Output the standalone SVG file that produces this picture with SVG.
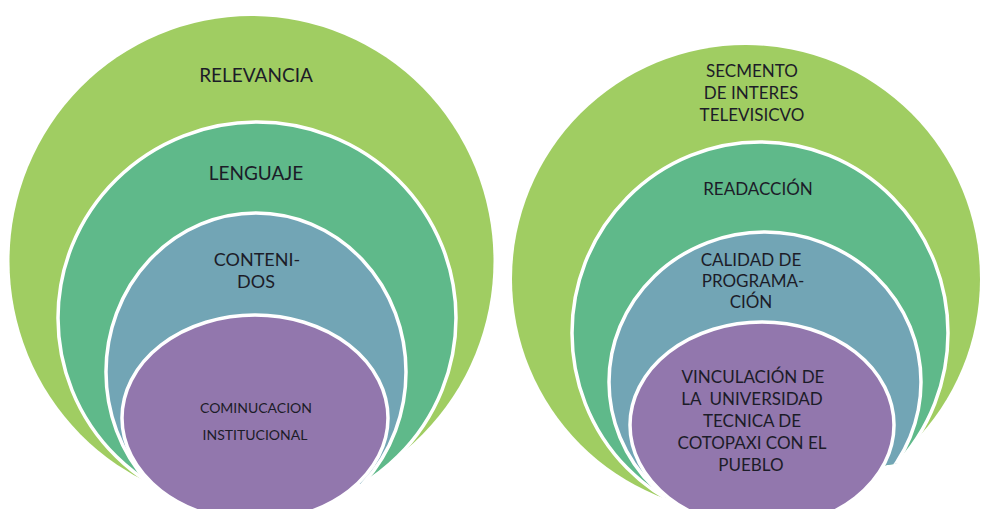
<svg xmlns="http://www.w3.org/2000/svg" width="982" height="509" viewBox="0 0 982 509">
<defs>
<clipPath id="clipL"><rect x="0" y="0" width="495" height="484"/></clipPath>
<clipPath id="clipR"><polygon points="495,0 982,0 982,451 495,523"/></clipPath>
</defs>
<style>
.c{stroke:#ffffff;stroke-width:3.5}
.g1{fill:#a0cd62}
.g2{fill:#5fb98a}
.g3{fill:#72a5b5}
.g4{fill:#9277ad}
text{font-family:Lato,"Liberation Sans",sans-serif;fill:#1c1c28;text-anchor:middle}
.t{font-size:19px}
.u{font-size:18px}
.s{font-size:14px}
.r{font-size:17px}
</style>
<rect width="982" height="509" fill="#ffffff"/>
<g id="left">
<g clip-path="url(#clipL)">
<g id="relevancia"><ellipse class="g1" cx="251.5" cy="261" rx="242" ry="245"/><text class="t" x="256" y="82">RELEVANCIA</text></g>
<g id="lenguaje"><ellipse class="c g2" cx="257" cy="318" rx="199" ry="196"/><text class="t" x="256" y="180">LENGUAJE</text></g>
<g id="contenidos"><ellipse class="c g3" cx="256" cy="372" rx="150" ry="159"/><text class="u" x="257" y="266">CONTENI-</text><text class="u" x="256" y="288">DOS</text></g>
</g>
<g id="comunicacion"><ellipse class="c g4" cx="255" cy="418" rx="133" ry="103"/><text class="s" x="256" y="413">COMINUCACION</text><text class="s" x="255" y="440">INSTITUCIONAL</text></g>
</g>
<g id="right">
<g clip-path="url(#clipR)">
<g id="segmento"><ellipse class="g1" cx="746" cy="279" rx="234" ry="234"/><text class="r" x="752" y="77">SECMENTO</text><text class="r" x="751" y="99">DE INTERES</text><text class="r" x="752" y="121">TELEVISICVO</text></g>
<g id="redaccion"><ellipse class="c g2" cx="760" cy="333" rx="188" ry="191"/><text class="r" x="758" y="195">READACCIÓN</text></g>
<g id="calidad"><ellipse class="c g3" cx="765" cy="382" rx="156" ry="150"/><text class="r" x="751" y="266">CALIDAD DE</text><text class="r" x="753" y="287">PROGRAMA-</text><text class="r" x="751" y="308">CIÓN</text></g>
</g>
<g id="vinculacion"><ellipse class="c g4" cx="762" cy="425" rx="132" ry="103"/><text class="r" x="753" y="383">VINCULACIÓN DE</text><text class="r" x="752" y="405" xml:space="preserve">LA  UNIVERSIDAD</text><text class="r" x="752" y="427">TECNICA DE</text><text class="r" x="752" y="449">COTOPAXI CON EL</text><text class="r" x="751" y="471">PUEBLO</text></g>
</g>
<g id="connectors"></g>
</svg>
